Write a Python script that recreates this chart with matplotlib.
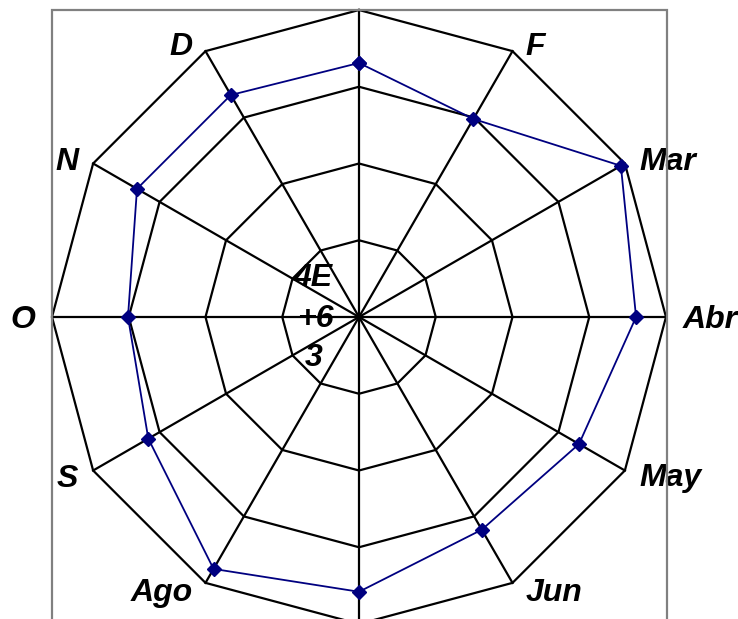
import numpy as np
import matplotlib.pyplot as plt
from matplotlib.patches import Rectangle

# monthly values, in ring units (outer ring = 4)
months = ["E", "F", "Mar", "Abr", "May", "Jun", "Jul", "Ago", "S", "O", "N", "D"]
values = [3.31, 2.98, 3.94, 3.61, 3.31, 3.20, 3.58, 3.79, 3.17, 3.01, 3.34, 3.34]
rings = [1, 2, 3, 4]

# pixel offsets of each month label from its outer vertex
# (E and Jul sit beyond the top and bottom edges, so they get no label)
label_offsets = [None, (13, 4), (15, 2), (17, -3), (15, -8), (13, -10),
                 None, (-13, -10), (-15, -8), (-17, -3), (-15, 2), (-13, 4)]

W, H = 738, 619
fig = plt.figure(figsize=(W / 100, H / 100), dpi=100)

# plot area frame
fig.add_artist(Rectangle((51.5 / W, -0.02), (667 - 51.5) / W, (H - 10) / H + 0.02,
                         transform=fig.transFigure, fill=False,
                         edgecolor="#808080", lw=1.6))

cx, cy, R = 359, H - 317, 307
ax = fig.add_axes([(cx - R) / W, (cy - R) / H, 2 * R / W, 2 * R / H], projection="polar")
ax.set_theta_zero_location("N")
ax.set_theta_direction(-1)
ax.set_ylim(0, rings[-1])
ax.grid(False)
ax.spines["polar"].set_visible(False)
ax.patch.set_visible(False)
ax.set_xticks([])
ax.set_yticks([])

n = len(months)
theta = np.arange(n) * 2 * np.pi / n
closed = np.append(theta, theta[0])

# polygon grid rings and spokes
for r in rings:
    ax.plot(closed, [r] * (n + 1), color="black", lw=1.6, clip_on=False, zorder=1)
for t in theta:
    ax.plot([t, t], [0, rings[-1]], color="black", lw=1.6, clip_on=False, zorder=1)

# data series
ax.plot(closed, values + values[:1], color="#000080", lw=1.3, marker="D",
        markersize=7, markerfacecolor="#000080", markeredgecolor="#000080",
        clip_on=False, zorder=3)

font = dict(family="Liberation Sans", weight="bold", style="italic", fontsize=23)

for t, name, off in zip(theta, months, label_offsets):
    if off is None:
        continue
    dx, dy = off
    ax.annotate(name, xy=(t, rings[-1]), xytext=(dx, dy), textcoords="offset pixels",
                ha="left" if dx > 0 else "right", va="center",
                annotation_clip=False, **font)

# axis value labels near the centre
for txt, (dx, dy) in zip(["4E", "+6", "3"], [(-46, 39), (-44, -2), (-45, -41)]):
    ax.annotate(txt, xy=(0, 0), xytext=(dx, dy), textcoords="offset pixels",
                ha="center", va="center", **font)

fig.savefig("out.png", dpi=100)
